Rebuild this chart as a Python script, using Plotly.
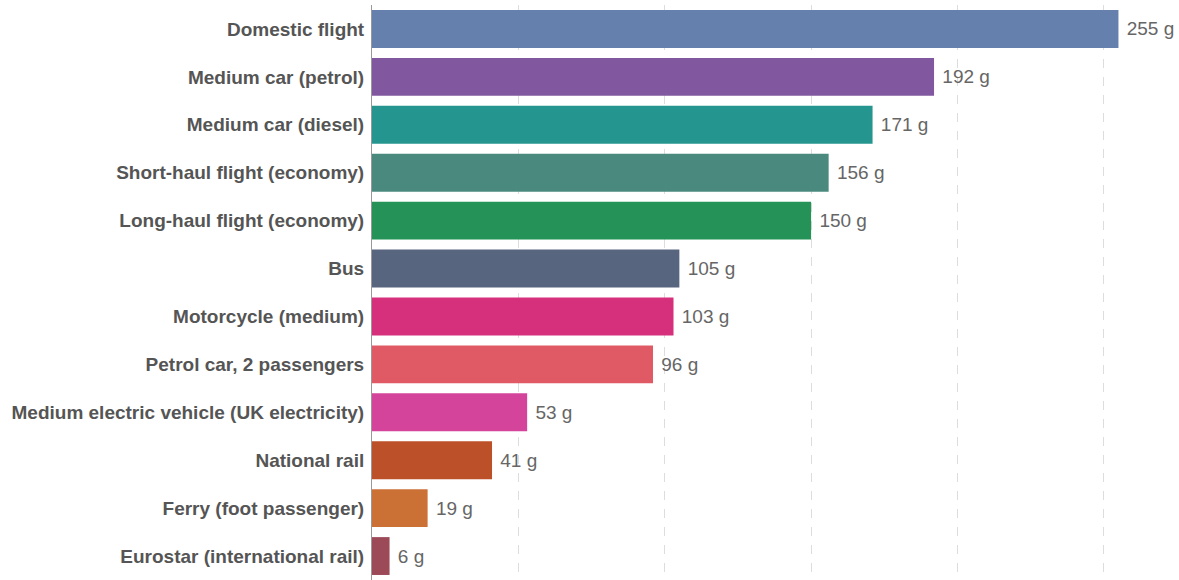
import plotly.graph_objects as go

categories = [
    "Domestic flight",
    "Medium car (petrol)",
    "Medium car (diesel)",
    "Short-haul flight (economy)",
    "Long-haul flight (economy)",
    "Bus",
    "Motorcycle (medium)",
    "Petrol car, 2 passengers",
    "Medium electric vehicle (UK electricity)",
    "National rail",
    "Ferry (foot passenger)",
    "Eurostar (international rail)",
]
values = [255, 192, 171, 156, 150, 105, 103, 96, 53, 41, 19, 6]
colors = [
    "#6580ad", "#8158a0", "#25968f", "#4a8a7e", "#259357", "#58657e",
    "#d6307c", "#e05a66", "#d4449b", "#bc5129", "#cb7136", "#9c4a57",
]

fig = go.Figure(
    go.Bar(
        x=values,
        y=categories,
        orientation="h",
        marker=dict(color=colors, line=dict(width=0)),
        width=0.79,
        text=[f" {v} g" for v in values],
        textposition="outside",
        textfont=dict(family="Liberation Sans, Arial, sans-serif", size=19, color="#666666"),
        cliponaxis=False,
        hoverinfo="skip",
    )
)

fig.update_layout(
    width=1179,
    height=580,
    margin=dict(l=372, r=2, t=5, b=0, autoexpand=False),
    paper_bgcolor="white",
    plot_bgcolor="white",
    showlegend=False,
    font=dict(family="Liberation Sans, Arial, sans-serif"),
)
fig.update_xaxes(
    range=[0, 275],
    dtick=50,
    showgrid=True,
    gridcolor="#dddddd",
    griddash="dash",
    gridwidth=1,
    showticklabels=False,
    zeroline=False,
    showline=False,
    fixedrange=True,
    automargin=False,
)
fig.update_yaxes(
    categoryorder="array",
    categoryarray=categories[::-1],
    showline=True,
    linecolor="#999999",
    linewidth=1,
    ticks="",
    ticklabelstandoff=3,
    tickfont=dict(family="Liberation Sans, Arial, sans-serif", size=19, color="#555555", weight="bold"),
    showgrid=False,
    fixedrange=True,
    automargin=False,
)

fig.write_html(
    "out.html",
    config={"displayModeBar": False},
    post_script="document.body.style.margin='0px';document.body.style.overflow='hidden';",
)
